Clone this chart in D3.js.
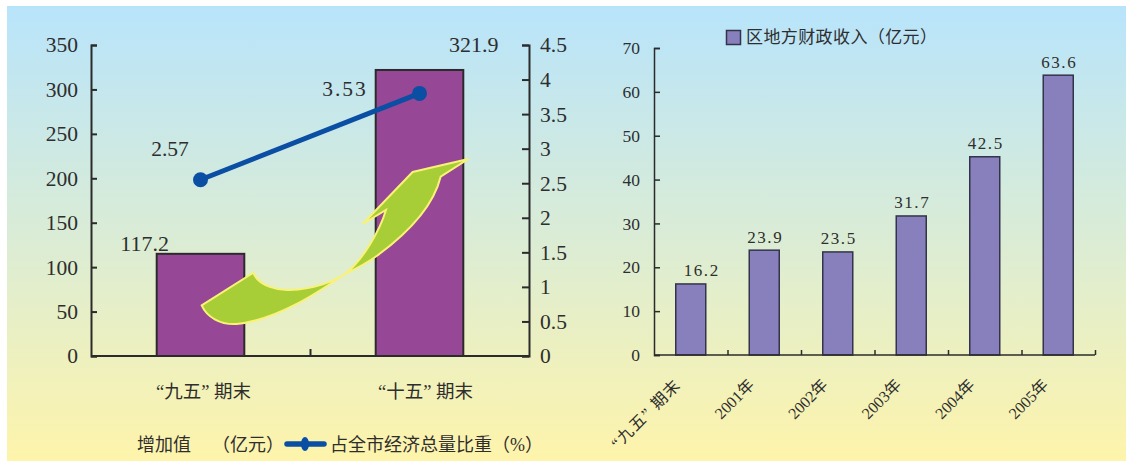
<!DOCTYPE html>
<html lang="zh-CN">
<meta charset="utf-8">
<script src="https://d3js.org/d3.v7.min.js"></script>
<style>
html, body { margin: 0; padding: 0; background: #fff; }
svg { display: block; }
text { font-family: "Liberation Serif", "Noto Sans CJK SC", serif; fill: #2e2e2e; }
.domain, .tick line { stroke: #2b2b2b; }
</style>
<body>
<div id="chart"></div>
<script>

// left chart
var periods = ["“九五” 期末", "“十五” 期末"];
var addedValue = [115, 321.9];              // bar height as drawn
var addedValueLabels = ["117.2", "321.9"];
var share = [2.55, 3.8];                    // line position as drawn
var shareLabels = ["2.57", "3.53"];
var leftTicks = [0, 50, 100, 150, 200, 250, 300, 350];
var rightTicks = [0, 0.5, 1, 1.5, 2, 2.5, 3, 3.5, 4, 4.5];

// right chart
var years = ["“九五” 期末", "2001年", "2002年", "2003年", "2004年", "2005年"];
var revenue = [16.2, 23.9, 23.5, 31.7, 45.2, 63.8];  // bar height as drawn
var revenueLabels = ["16.2", "23.9", "23.5", "31.7", "42.5", "63.6"];
var revenueTicks = [0, 10, 20, 30, 40, 50, 60, 70];

var svg = d3.select("#chart").append("svg")
  .attr("width", 1126)
  .attr("height", 461);

var grad = svg.append("defs").append("linearGradient")
  .attr("id", "bg")
  .attr("x1", 0).attr("y1", 0).attr("x2", 0).attr("y2", 1);
grad.append("stop").attr("offset", "0%").attr("stop-color", "#b8e4fb");
grad.append("stop").attr("offset", "50%").attr("stop-color", "#daecd6");
grad.append("stop").attr("offset", "100%").attr("stop-color", "#fef4ab");

svg.append("rect")
  .attr("x", 7).attr("y", 6)
  .attr("width", 1119).attr("height", 455)
  .attr("fill", "url(#bg)");

// ---- left chart
var x1 = d3.scaleBand().domain(periods).range([91, 529]).paddingInner(0.6).paddingOuter(0.3);
var y1 = d3.scaleLinear().domain([0, 350]).range([356, 45]);
var y1b = d3.scaleLinear().domain([0, 4.5]).range([356, 45]);

svg.selectAll(".bar1")
  .data(addedValue)
  .enter().append("rect")
    .attr("class", "bar1")
    .attr("x", function (d, i) { return x1(periods[i]); })
    .attr("y", function (d) { return y1(d); })
    .attr("width", x1.bandwidth())
    .attr("height", function (d) { return y1(0) - y1(d); })
    .attr("fill", "#964796")
    .attr("stroke", "#2b2b2b")
    .attr("stroke-width", 2);

var axisL = d3.axisLeft(y1).tickValues(leftTicks).tickSize(-6).tickPadding(13).tickFormat(d3.format("d"));
svg.append("g").attr("transform", "translate(91,0)").call(axisL)
  .call(styleAxis, 21.5, 2);

var axisR = d3.axisRight(y1b).tickValues(rightTicks).tickSize(-7).tickPadding(11).tickFormat(function (d) { return d; });
svg.append("g").attr("transform", "translate(529,0)").call(axisR)
  .call(styleAxis, 21.5, 2);

// baseline with the one tick between the two periods
var axisB = d3.axisBottom(d3.scaleLinear().domain([0, 2]).range([91, 529])).tickValues([1]).tickSize(-7).tickFormat("");
svg.append("g").attr("transform", "translate(0,356)").call(axisB)
  .call(styleAxis, 21, 2)
  .select(".domain").attr("d", "M91,0H529");

svg.selectAll(".xl1")
  .data(periods)
  .enter().append("text")
    .attr("class", "xl1")
    .attr("x", function (d, i) { return x1(d) + x1.bandwidth() / 2 + 3 + 3 * i; })
    .attr("y", 398)
    .attr("text-anchor", "middle")
    .attr("font-size", 18.5)
    .text(function (d) { return d; });

svg.selectAll(".vl1")
  .data(addedValue)
  .enter().append("text")
    .attr("class", "vl1")
    .attr("x", function (d, i) { return i == 0 ? x1(periods[i]) - 12 : x1(periods[i]) + 98; })
    .attr("y", function (d, i) { return i == 0 ? 251 : 52; })
    .attr("text-anchor", "middle")
    .attr("font-size", 22)
    .text(function (d, i) { return addedValueLabels[i]; });

var line1 = d3.line()
  .x(function (d, i) { return x1(periods[i]) + x1.bandwidth() / 2; })
  .y(function (d) { return y1b(d); });

svg.append("path")
  .datum(share)
  .attr("d", line1)
  .attr("fill", "none")
  .attr("stroke", "#0a4fa3")
  .attr("stroke-width", 5);

svg.selectAll(".dot")
  .data(share)
  .enter().append("circle")
    .attr("class", "dot")
    .attr("cx", function (d, i) { return x1(periods[i]) + x1.bandwidth() / 2; })
    .attr("cy", function (d) { return y1b(d); })
    .attr("r", 7.5)
    .attr("fill", "#0a4fa3");

svg.selectAll(".sl")
  .data(share)
  .enter().append("text")
    .attr("class", "sl")
    .attr("x", function (d, i) { return i == 0 ? 170 : 345; })
    .attr("y", function (d, i) { return i == 0 ? 156 : 96; })
    .attr("text-anchor", "middle")
    .attr("font-size", 21.5)
    .attr("letter-spacing", function (d, i) { return i == 0 ? 0 : 2; })
    .text(function (d, i) { return shareLabels[i]; });

// decorative arrow, traced in 3x pixels
svg.append("path")
  .attr("transform", "translate(190,150) scale(0.3333)")
  .attr("d", "M35,466 L190,368 C205,410 270,422 300,420 C370,418 430,395 465,372 C520,330 570,240 588,180 L518,222 L668,66 L835,27 L752,80 C735,150 680,230 560,318 C530,340 500,355 465,372 C380,430 260,510 140,522 C90,525 50,500 35,466 Z")
  .attr("fill", "#a7ce37")
  .attr("stroke", "#f9f277")
  .attr("stroke-width", 6)
  .attr("stroke-linejoin", "miter");

// left legend
svg.append("text").attr("x", 137).attr("y", 451).attr("font-size", 18).text("增加值");
svg.append("text").attr("x", 212).attr("y", 451).attr("font-size", 18).text("（亿元）");
svg.append("line")
  .attr("x1", 287).attr("x2", 324).attr("y1", 444).attr("y2", 444)
  .attr("stroke", "#0a4fa3").attr("stroke-width", 5.5).attr("stroke-linecap", "round");
svg.append("ellipse").attr("cx", 305).attr("cy", 444).attr("rx", 4).attr("ry", 7).attr("fill", "#0a4fa3");
svg.append("text").attr("x", 330).attr("y", 451).attr("font-size", 18).text("占全市经济总量比重（%）");

// ---- right chart
var x2 = d3.scaleBand().domain(years).range([654, 1095]);
var y2 = d3.scaleLinear().domain([0, 70]).range([355, 48]);
var barW = 30;

svg.selectAll(".bar2")
  .data(revenue)
  .enter().append("rect")
    .attr("class", "bar2")
    .attr("x", function (d, i) { return x2(years[i]) + x2.bandwidth() / 2 - barW / 2; })
    .attr("y", function (d) { return y2(d); })
    .attr("width", barW)
    .attr("height", function (d) { return y2(0) - y2(d); })
    .attr("fill", "#8880bc")
    .attr("stroke", "#33334a")
    .attr("stroke-width", 1.5);

var axis2 = d3.axisLeft(y2).tickValues(revenueTicks).tickSize(-6).tickPadding(14);
svg.append("g").attr("transform", "translate(654,0)").call(axis2)
  .call(styleAxis, 17.5, 1.5);

var axis2b = d3.axisBottom(d3.scaleLinear().domain([0, 6]).range([654, 1095])).tickValues([1, 2, 3, 4, 5, 6]).tickSize(-5).tickFormat("");
svg.append("g").attr("transform", "translate(0,355)").call(axis2b)
  .call(styleAxis, 16, 1.5)
  .select(".domain").attr("d", "M654,0H1095");

svg.selectAll(".xl2")
  .data(years)
  .enter().append("text")
    .attr("class", "xl2")
    .attr("text-anchor", "end")
    .attr("font-size", 16)
    .attr("letter-spacing", function (d, i) { return i == 0 ? 1.2 : 0; })
    .attr("transform", function (d) {
      return "translate(" + (x2(d) + x2.bandwidth() / 2 - 9) + ",386) rotate(-45)";
    })
    .text(function (d) { return d; });

svg.selectAll(".vl2")
  .data(revenue)
  .enter().append("text")
    .attr("class", "vl2")
    .attr("x", function (d, i) { return x2(years[i]) + x2.bandwidth() / 2 + (i == 0 ? 11 : 1); })
    .attr("y", function (d) { return y2(d) - 7.5; })
    .attr("text-anchor", "middle")
    .attr("font-size", 17)
    .attr("letter-spacing", 1.6)
    .text(function (d, i) { return revenueLabels[i]; });

// right legend
svg.append("rect")
  .attr("x", 726.5).attr("y", 30.5).attr("width", 14).attr("height", 14)
  .attr("fill", "#8880bc").attr("stroke", "#33334a").attr("stroke-width", 1.5);
svg.append("text").attr("x", 746).attr("y", 43).attr("font-size", 17).attr("letter-spacing", 0.4).text("区地方财政收入（亿元）");

function styleAxis(g, size, width) {
  g.attr("font-family", null).attr("font-size", size);
  g.selectAll(".domain").attr("stroke-width", width);
  g.selectAll(".tick line").attr("stroke-width", width);
  g.selectAll(".tick text").attr("fill", "#2e2e2e");
}

</script>
</body>
</html>
